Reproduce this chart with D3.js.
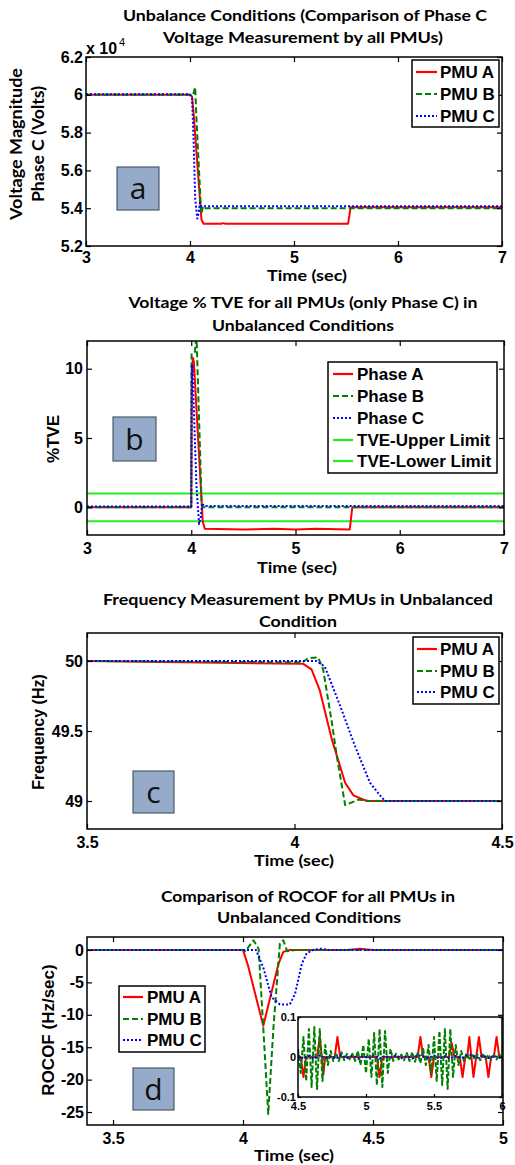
<!DOCTYPE html>
<html><head><meta charset="utf-8">
<script src="https://cdn.jsdelivr.net/npm/d3@7"></script>
<style>body{margin:0;background:#fff} svg{display:block}</style>
</head><body>
<svg id="c" width="515" height="1165"></svg>
<script>
// ---------------- DATA ----------------
// Panel a: voltage magnitude (x 10^4 V)
const aTicksX = [3, 4, 5, 6, 7];
const aTicksY = [5.2, 5.4, 5.6, 5.8, 6, 6.2];
const aPMUA = [[3,6.0],[4.0,6.0],[4.02,5.99],[4.035,5.9],[4.11,5.34],[4.13,5.318],[4.3,5.318],[4.32,5.321],[4.34,5.318],[5.52,5.318],[5.545,5.405],[7,5.405]];
const aPMUB = [[3,6.0],[4.03,6.0],[4.045,6.03],[4.05,6.04],[4.06,5.9],[4.1,5.45],[4.11,5.37],[4.125,5.41],[4.14,5.40],[7,5.40]];
const aPMUC = [[3,6.003],[4.0,6.003],[4.02,5.98],[4.035,5.75],[4.05,5.45],[4.07,5.345],[4.085,5.38],[4.095,5.43],[4.11,5.41],[7,5.41]];

// Panel b: %TVE
const bTicksX = [3, 4, 5, 6, 7];
const bTicksY = [0, 5, 10];
const bPhaseA = [[3,0],[4.0,0],[4.005,9.0],[4.015,10.8],[4.025,10.5],[4.11,-1.0],[4.13,-1.55],[4.5,-1.6],[4.8,-1.55],[5.0,-1.6],[5.2,-1.55],[5.52,-1.6],[5.545,0],[7,0]];
const bPhaseB = [[3,0],[4.0,0],[4.003,11.1],[4.035,11.2],[4.05,12.5],[4.1,0.2],[4.11,0],[7,0]];
const bPhaseC = [[3,0.05],[4.0,0.05],[4.005,10.3],[4.012,10],[4.05,1.5],[4.075,-1.2],[4.09,-0.8],[4.105,0.3],[4.12,0.1],[7,0.1]];
const bUpper = [[3,1],[7,1]];
const bLower = [[3,-1],[7,-1]];

// Panel c: frequency (Hz)
const cTicksX = [3.5, 4, 4.5];
const cTicksY = [49, 49.5, 50];
const cPMUA = [[3.5,50],[4.021,49.98],[4.041,49.94],[4.061,49.79],[4.09,49.44],[4.122,49.13],[4.142,49.04],[4.174,49.0],[4.5,49.0]];
const cPMUB = [[3.5,50],[4.019,49.99],[4.033,50.02],[4.057,50.025],[4.069,49.94],[4.09,49.56],[4.102,49.32],[4.122,48.97],[4.154,49.01],[4.18,49.0],[4.5,49.0]];
const cPMUC = [[3.5,50],[4.053,50.0],[4.073,49.96],[4.11,49.68],[4.146,49.39],[4.182,49.13],[4.206,49.04],[4.218,49.0],[4.5,49.0]];

// Panel d: ROCOF (Hz/sec)
const dTicksX = [3.5, 4, 4.5, 5];
const dTicksY = [-25, -20, -15, -10, -5, 0];
const dPMUA = [[3.4,0],[4.0,0],[4.02,-2.5],[4.078,-11.7],[4.136,-2.2],[4.155,-0.3],[4.18,0],[4.4,0],[4.45,0.2],[4.5,0],[5,0]];
const dPMUB = [[3.4,0],[4.0,0],[4.01,-0.2],[4.02,0.4],[4.04,1.5],[4.06,0.2],[4.078,-12],[4.097,-25.3],[4.117,-12],[4.142,1.0],[4.155,1.5],[4.17,-0.2],[4.2,0],[5,0]];
const dPMUC = [[3.4,0],[4.05,0],[4.078,-2.7],[4.11,-7.3],[4.142,-8.4],[4.18,-8.4],[4.2,-6.8],[4.226,-2.2],[4.245,-0.5],[4.27,0],[4.3,0.2],[4.33,0],[5,0]];

// Panel d inset
const iTicksX = [4.5, 5, 5.5, 6];
const iTicksY = [-0.1, 0, 0.1];
const iPMUA = [[4.5,0],[4.52,0],[4.54,-0.05],[4.56,0],[4.64,0],[4.66,0.05],[4.675,0],[4.686,-0.045],[4.70,0],[4.77,0],[4.79,0.05],[4.81,0],[5.08,0],[5.10,-0.05],[5.12,0],[5.38,0],[5.40,0.05],[5.42,0],[5.46,0],[5.48,-0.05],[5.50,0],[5.61,0],[5.63,0.035],[5.65,0],[5.69,0],[5.71,-0.05],[5.73,0],[5.745,0],[5.76,0.05],[5.775,0],[5.79,-0.05],[5.81,0],[5.83,0.05],[5.85,0],[5.88,0],[5.90,-0.05],[5.92,0],[5.94,0],[5.96,0.05],[5.98,0],[6,0]];
const iPMUB = [[4.50,0.02],[4.52,-0.04],[4.54,0.05],[4.56,-0.06],[4.58,0.07],[4.60,-0.075],[4.62,0.075],[4.64,-0.08],[4.66,0.07],[4.68,-0.06],[4.70,0.03],[4.72,-0.02],[4.74,0.015],[4.76,-0.01],[4.78,0.01],[4.80,-0.01],[4.82,0.012],[4.84,-0.008],[4.86,0.008],[4.88,-0.006],[4.90,0.008],[4.92,-0.01],[4.94,0.015],[4.96,-0.02],[4.98,0.03],[5.00,-0.04],[5.02,0.045],[5.04,-0.05],[5.06,0.06],[5.08,-0.07],[5.10,0.07],[5.12,-0.075],[5.14,0.065],[5.16,-0.04],[5.18,0.02],[5.20,-0.01],[5.22,0.008],[5.24,-0.006],[5.26,0.006],[5.28,-0.008],[5.30,0.01],[5.32,-0.01],[5.34,0.012],[5.36,-0.012],[5.38,0.01],[5.40,-0.015],[5.42,0.02],[5.44,-0.02],[5.46,0.03],[5.48,-0.04],[5.50,0.05],[5.52,-0.06],[5.54,0.065],[5.56,-0.07],[5.58,0.07],[5.60,-0.08],[5.62,0.07],[5.64,-0.05],[5.66,0.03],[5.68,-0.02],[5.70,0.015],[5.72,-0.01],[5.74,0.01],[5.76,-0.008],[5.78,0.008],[5.80,-0.006],[5.82,0.006],[5.84,-0.008],[5.86,0.006],[5.88,-0.005],[5.90,0.006],[5.92,-0.006],[5.94,0.005],[5.96,-0.006],[5.98,0.008],[6.0,-0.01]];
const iPMUC = [[4.5,0.005],[4.54,-0.004],[4.58,0.003],[4.62,-0.005],[4.66,0.004],[4.70,-0.003],[4.74,0.002],[4.78,-0.004],[4.82,0.005],[4.86,-0.003],[4.90,0.003],[4.94,-0.004],[4.98,0.002],[5.02,-0.003],[5.06,0.004],[5.10,-0.004],[5.14,0.003],[5.18,-0.002],[5.22,0.004],[5.26,-0.003],[5.30,0.003],[5.34,-0.004],[5.38,0.005],[5.42,0.002],[5.46,-0.003],[5.50,0.004],[5.54,-0.005],[5.58,0.002],[5.62,-0.004],[5.66,0.003],[5.70,-0.003],[5.74,0.004],[5.78,0.005],[5.82,-0.002],[5.86,0.004],[5.90,-0.003],[5.94,0.003],[5.98,-0.002],[6.0,0.002]];

const pmuNames = ["PMU A", "PMU B", "PMU C"];
const tveNames = ["Phase A", "Phase B", "Phase C", "TVE-Upper Limit", "TVE-Lower Limit"];

// ---------------- STYLES ----------------
const RED = "#ff0000", GREEN = "#008000", BLUE = "#0000ff", LIME = "#22ee22";
const sty = {
  red:   {color: RED,   dash: null,  w: 2},
  green: {color: GREEN, dash: "6,3", w: 2},
  blue:  {color: BLUE,  dash: "2,2", w: 2},
  lime:  {color: LIME,  dash: null,  w: 2}
};
const TICKFONT = "'Liberation Sans', Arial, sans-serif";
const CALFONT = "Lato, 'Open Sans', sans-serif";

const svg = d3.select("#c");
svg.append("rect").attr("width", 515).attr("height", 1165).attr("fill", "#fff");

let clipN = 0;
function panel(o) {
  const x = d3.scaleLinear().domain(o.xd).range([o.l, o.r]);
  const y = d3.scaleLinear().domain(o.yd).range([o.b, o.t]);
  const g = svg.append("g");
  const id = "clip" + (clipN++);
  svg.append("clipPath").attr("id", id).append("rect")
    .attr("x", o.l).attr("y", o.t).attr("width", o.r - o.l).attr("height", o.b - o.t);
  g.append("rect").attr("x", o.l).attr("y", o.t).attr("width", o.r - o.l).attr("height", o.b - o.t).attr("fill", "#fff");
  const line = d3.line().x(d => x(d[0])).y(d => y(d[1]));
  o.series.forEach(s => {
    g.append("path").attr("d", line(s.data)).attr("clip-path", `url(#${id})`)
      .attr("fill", "none").attr("stroke", s.st.color).attr("stroke-width", s.st.w)
      .attr("stroke-dasharray", s.st.dash).attr("stroke-linejoin", "round");
  });
  const fs = o.fs || 16, tl = o.tl || 5;
  const fmt = o.fmt || (d => String(+d.toFixed(3)));
  const ax = g.append("g").attr("transform", `translate(0,${o.b})`)
    .call(d3.axisBottom(x).tickValues(o.xt).tickSize(-tl).tickSizeOuter(0).tickPadding(o.xpad).tickFormat(fmt));
  const axT = g.append("g").attr("transform", `translate(0,${o.t})`)
    .call(d3.axisTop(x).tickValues(o.xt).tickSize(-tl).tickSizeOuter(0).tickFormat(""));
  const ay = g.append("g").attr("transform", `translate(${o.l},0)`)
    .call(d3.axisLeft(y).tickValues(o.yt).tickSize(-tl).tickSizeOuter(0).tickPadding(o.ypad).tickFormat(fmt));
  const ayR = g.append("g").attr("transform", `translate(${o.r},0)`)
    .call(d3.axisRight(y).tickValues(o.yt).tickSize(-tl).tickSizeOuter(0).tickFormat(""));
  [ax, axT, ay, ayR].forEach(a => {
    a.select(".domain").remove();
    a.selectAll("line").attr("stroke", "#000").attr("stroke-width", 1.2);
    a.selectAll("text").attr("font-family", TICKFONT).attr("font-weight", "bold").attr("font-size", fs).attr("fill", "#000");
  });
  g.append("rect").attr("x", o.l).attr("y", o.t).attr("width", o.r - o.l).attr("height", o.b - o.t)
    .attr("fill", "none").attr("stroke", "#000").attr("stroke-width", 1.5);
  return {x, y, g};
}

function legend(box, names, styles, lx0, lx1, tx, ys, fs) {
  svg.append("rect").attr("x", box[0]).attr("y", box[1]).attr("width", box[2]).attr("height", box[3])
    .attr("fill", "#fff").attr("stroke", "#000").attr("stroke-width", 1.5);
  names.forEach((n, i) => {
    const s = styles[i];
    svg.append("line").attr("x1", lx0).attr("x2", lx1).attr("y1", ys[i]).attr("y2", ys[i])
      .attr("stroke", s.color).attr("stroke-width", 2.2).attr("stroke-dasharray", s.dash);
    svg.append("text").attr("x", tx).attr("y", ys[i]).attr("dy", "0.36em").text(n)
      .attr("font-family", TICKFONT).attr("font-weight", "bold").attr("font-size", fs).attr("fill", "#000");
  });
}

function tag(x, y, w, h, letter) {
  svg.append("rect").attr("x", x).attr("y", y).attr("width", w).attr("height", h)
    .attr("fill", "#95abc9").attr("stroke", "#4d5a6b").attr("stroke-width", 1.2);
  svg.append("text").attr("x", x + w / 2).attr("y", y + h / 2).attr("dy", "0.35em").attr("text-anchor", "middle")
    .attr("font-family", "'Open Sans', Lato, sans-serif").attr("font-size", 30).attr("fill", "#111").text(letter);
}

function txt(x, y, s, opts) {
  const t = svg.append("text").attr("x", x).attr("y", y).text(s)
    .attr("font-family", opts.font || CALFONT).attr("font-weight", "bold")
    .attr("font-size", opts.fs || 15).attr("text-anchor", "middle").attr("fill", "#000");
  if (opts.len) t.attr("textLength", opts.len).attr("lengthAdjust", "spacingAndGlyphs");
  if (opts.rot) t.attr("transform", `rotate(-90,${x},${y})`);
  return t;
}

// ---------------- PANEL A ----------------
panel({l: 86, r: 502, t: 57, b: 246, xd: [3, 7], yd: [5.2, 6.2], xt: aTicksX, yt: aTicksY, xpad: 6, ypad: 3,
  series: [{data: aPMUA, st: sty.red}, {data: aPMUB, st: sty.green}, {data: aPMUC, st: sty.blue}]});
txt(305, 21, "Unbalance Conditions (Comparison of Phase C", {fs: 16, len: 364});
txt(303, 43, "Voltage Measurement by all PMUs)", {fs: 16, len: 280});
txt(307, 281, "Time (sec)", {fs: 15, len: 80});
txt(22, 144, "Voltage Magnitude", {fs: 17, len: 152, rot: true});
txt(44, 144, "Phase C (Volts)", {fs: 17, len: 116, rot: true});
svg.append("text").attr("x", 86).attr("y", 54).text("x 10")
  .attr("font-family", TICKFONT).attr("font-weight", "bold").attr("font-size", 16);
svg.append("text").attr("x", 119).attr("y", 46).text("4")
  .attr("font-family", TICKFONT).attr("font-size", 11);
legend([412, 60, 87, 67], pmuNames, [sty.red, sty.green, sty.blue], 416, 437, 440, [72, 94, 116], 17);
tag(117, 167, 42, 43, "a");

// ---------------- PANEL B ----------------
panel({l: 87, r: 504, t: 341, b: 535, xd: [3, 7], yd: [-2, 12], xt: bTicksX, yt: bTicksY, xpad: 8, ypad: 4,
  series: [{data: bUpper, st: sty.lime}, {data: bLower, st: sty.lime},
           {data: bPhaseA, st: sty.red}, {data: bPhaseB, st: sty.green}, {data: bPhaseC, st: sty.blue}]});
txt(303, 308, "Voltage % TVE for all PMUs (only Phase C) in", {fs: 16, len: 349});
txt(303, 331, "Unbalanced Conditions", {fs: 16, len: 182});
txt(297, 573, "Time (sec)", {fs: 15, len: 80});
txt(59, 439, "%TVE", {font: TICKFONT, fs: 17, rot: true});
legend([328, 362, 169, 111], tveNames, [sty.red, sty.green, sty.blue, sty.lime, sty.lime], 333, 353, 357,
  [374, 396, 418, 440, 461], 17);
tag(113, 417, 43, 44, "b");

// ---------------- PANEL C ----------------
panel({l: 87, r: 502, t: 633, b: 829, xd: [3.5, 4.5], yd: [48.8, 50.2], xt: cTicksX, yt: cTicksY, xpad: 8, ypad: 4,
  series: [{data: cPMUA, st: sty.red}, {data: cPMUB, st: sty.green}, {data: cPMUC, st: sty.blue}]});
txt(298, 605, "Frequency Measurement by PMUs in Unbalanced", {fs: 16, len: 390});
txt(298, 627, "Condition", {fs: 16, len: 78});
txt(294, 866, "Time (sec)", {fs: 15, len: 80});
txt(44, 732, "Frequency (Hz)", {font: TICKFONT, fs: 16, rot: true});
legend([413, 637, 86, 67], pmuNames, [sty.red, sty.green, sty.blue], 417, 437, 440, [649, 671, 692], 17);
tag(133, 771, 41, 42, "c");

// ---------------- PANEL D ----------------
panel({l: 87, r: 503, t: 937, b: 1125, xd: [3.4, 5], yd: [-27, 2], xt: dTicksX, yt: dTicksY, xpad: 8, ypad: 3,
  series: [{data: dPMUA, st: sty.red}, {data: dPMUB, st: sty.green}, {data: dPMUC, st: sty.blue}]});
txt(308, 902, "Comparison of ROCOF for all PMUs in", {fs: 16, len: 294});
txt(309, 923, "Unbalanced Conditions", {fs: 16, len: 184});
txt(294, 1161, "Time (sec)", {fs: 15, len: 80});
txt(54, 1030, "ROCOF (Hz/sec)", {font: TICKFONT, fs: 17, rot: true});
legend([119, 986, 86, 66], pmuNames, [sty.red, sty.green, sty.blue], 123, 143, 147, [997, 1019, 1040], 17);
tag(133, 1068, 41, 42, "d");

// inset
panel({l: 298, r: 502, t: 1017, b: 1097, xd: [4.5, 6], yd: [-0.1, 0.1], xt: iTicksX, yt: iTicksY, xpad: 5, ypad: 2,
  fs: 11, tl: 3,
  series: [{data: iPMUA, st: sty.red}, {data: iPMUB, st: {color: GREEN, dash: "5,2", w: 2}}, {data: iPMUC, st: sty.blue}]});
</script>
</body></html>
